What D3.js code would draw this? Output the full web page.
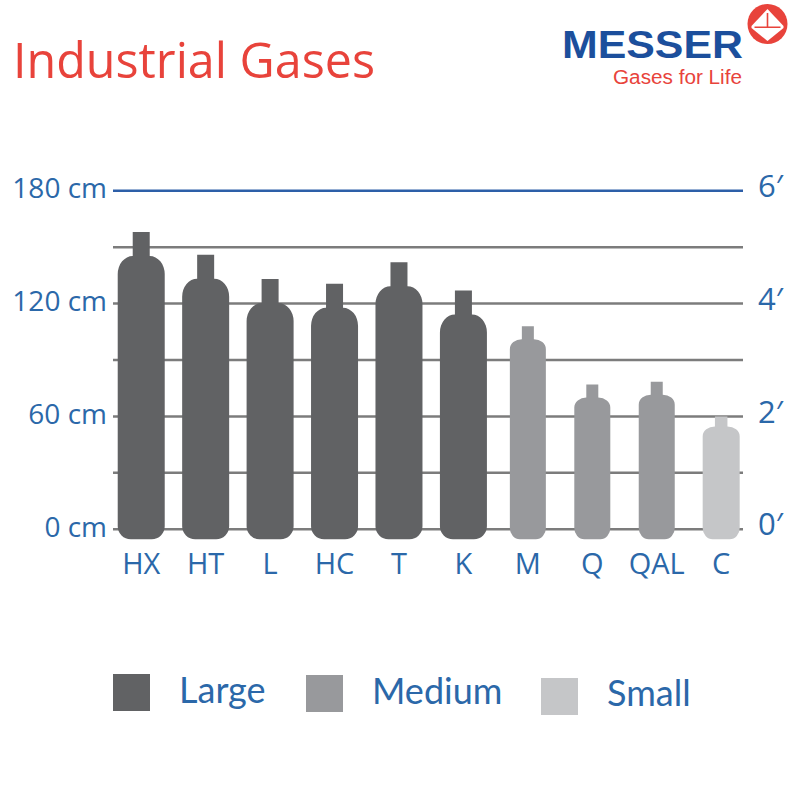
<!DOCTYPE html>
<html>
<head>
<meta charset="utf-8">
<script src="https://cdn.jsdelivr.net/npm/d3@7"></script>
<style>
  html, body { margin: 0; padding: 0; background: #ffffff; }
  svg { display: block; }
</style>
</head>
<body>
<svg id="chart" width="800" height="800"></svg>
<script>
// ---------------- DATA ----------------
const categories = ["HX", "HT", "L", "HC", "T", "K", "M", "Q", "QAL", "C"];
const heightsCm  = [158, 146, 133, 130.5, 142, 127, 108, 77, 78.5, 60];
const sizeClass  = ["Large", "Large", "Large", "Large", "Large", "Large", "Medium", "Medium", "Medium", "Small"];
const legendLabels = ["Large", "Medium", "Small"];
const cmTicks   = [0, 60, 120, 180];
const gridTicks = [0, 30, 60, 90, 120, 150, 180];
const feetTicks = [0, 2, 4, 6];
const titleText = "Industrial Gases";
const brandText = "MESSER";
const sloganText = "Gases for Life";

// ---------------- STYLE ----------------
const BLUE = "#2b68a9";
const RED = "#e8433b";
const classStyle = {
  Large:  { color: "#616264", w: 47, nw: 17, nh: 24, dh: 18, rx: 13, ry: 13 },
  Medium: { color: "#98999c", w: 36, nw: 12, nh: 13, dh: 10, rx: 10, ry: 11 },
  Small:  { color: "#c5c6c8", w: 37, nw: 12.5, nh: 10, dh: 10, rx: 10, ry: 11 }
};
const legendPos = [
  { sx: 113, sy: 674, tx: 179, ty: 703 },
  { sx: 306, sy: 675, tx: 372, ty: 704 },
  { sx: 541, sy: 678, tx: 607, ty: 706 }
];

const svg = d3.select("#chart");

// ---------------- SCALES ----------------
const gridLeft = 113, gridRight = 743;
const y = d3.scaleLinear().domain([0, 180]).range([529.3, 190.7]);
const yFeet = d3.scaleLinear().domain([0, 6]).range([529.3, 190.7]);
const x = d3.scaleBand().domain(categories).range([109, 753.4]).padding(0);

// ---------------- TITLE & LOGO ----------------
svg.append("text")
  .attr("x", 13).attr("y", 78)
  .attr("font-family", "'Open Sans', sans-serif")
  .attr("font-size", 49)
  .attr("fill", RED)
  .attr("textLength", 362)
  .attr("lengthAdjust", "spacingAndGlyphs")
  .text(titleText);

svg.append("text")
  .attr("x", 562).attr("y", 57.5)
  .attr("font-family", "'Liberation Sans', Arial, sans-serif")
  .attr("font-weight", "bold")
  .attr("font-size", 38)
  .attr("fill", "#1c4f9c")
  .attr("textLength", 181)
  .attr("lengthAdjust", "spacingAndGlyphs")
  .text(brandText);

svg.append("text")
  .attr("x", 613).attr("y", 84)
  .attr("font-family", "'Liberation Sans', Arial, sans-serif")
  .attr("font-size", 20)
  .attr("fill", RED)
  .attr("textLength", 129)
  .attr("lengthAdjust", "spacingAndGlyphs")
  .text(sloganText);

const emb = svg.append("g").attr("transform", "translate(767.5,24)");
emb.append("circle").attr("r", 20).attr("fill", RED);
emb.append("path")
  .attr("d", "M0,-15 L-16,2 L-16,4 L0,17 L16,4 L16,2 Z")
  .attr("fill", "#ffffff");
emb.append("path")
  .attr("d", "M0,-11 L0,3 M-13,3.2 L13,3.2")
  .attr("stroke", RED).attr("stroke-width", 1.6).attr("fill", "none");

// ---------------- GRID ----------------
const grid = svg.append("g");
grid.selectAll("line")
  .data(gridTicks)
  .join("line")
  .attr("x1", gridLeft).attr("x2", gridRight)
  .attr("y1", d => y(d)).attr("y2", d => y(d))
  .attr("stroke", d => d === 180 ? "#2d5fa8" : "#7c7c7c")
  .attr("stroke-width", 2.5);

// ---------------- CYLINDERS ----------------
function cylinderPath(cat, v, cls) {
  const s = classStyle[cls];
  const cx = x(cat) + x.bandwidth() / 2;
  const top = y(v);
  const shoulder = top + s.nh;
  const bodyTop = shoulder + s.dh;
  const bottom = y(0) + 10;
  const hw = s.w / 2, hn = s.nw / 2;
  const srx = hw - hn;
  return [
    `M${cx - hn},${top}`,
    `H${cx + hn}`,
    `V${shoulder}`,
    `A${srx},${s.dh} 0 0 1 ${cx + hw},${bodyTop}`,
    `V${bottom - s.ry}`,
    `A${s.rx},${s.ry} 0 0 1 ${cx + hw - s.rx},${bottom}`,
    `H${cx - hw + s.rx}`,
    `A${s.rx},${s.ry} 0 0 1 ${cx - hw},${bottom - s.ry}`,
    `V${bodyTop}`,
    `A${srx},${s.dh} 0 0 1 ${cx - hn},${shoulder}`,
    "Z"
  ].join(" ");
}

const rows = categories.map((c, i) => ({ cat: c, v: heightsCm[i], cls: sizeClass[i] }));
svg.append("g").selectAll("path")
  .data(rows)
  .join("path")
  .attr("d", d => cylinderPath(d.cat, d.v, d.cls))
  .attr("fill", d => classStyle[d.cls].color);

// ---------------- AXES ----------------
const leftAxis = svg.append("g")
  .attr("transform", `translate(${gridLeft},0)`)
  .call(d3.axisLeft(y).tickValues(cmTicks).tickSize(0).tickPadding(6).tickFormat(d => d + " cm"));
leftAxis.select(".domain").remove();
leftAxis.selectAll("text")
  .attr("dy", "0.25em")
  .attr("fill", BLUE)
  .attr("font-family", "'Open Sans', sans-serif")
  .attr("font-size", 28);

const rightAxis = svg.append("g")
  .attr("transform", `translate(${gridRight},0)`)
  .call(d3.axisRight(yFeet).tickValues(feetTicks).tickSize(0).tickPadding(15).tickFormat(d => d + "\u2032"));
rightAxis.select(".domain").remove();
rightAxis.selectAll("text")
  .attr("dy", "0.18em")
  .attr("fill", BLUE)
  .attr("font-family", "'Open Sans', sans-serif")
  .attr("font-size", 31);

const bottomAxis = svg.append("g")
  .attr("transform", `translate(0,${y(0)})`)
  .call(d3.axisBottom(x).tickSize(0).tickPadding(24));
bottomAxis.select(".domain").remove();
bottomAxis.selectAll("text")
  .attr("fill", BLUE)
  .attr("font-family", "'Open Sans', sans-serif")
  .attr("font-size", 29);

// ---------------- LEGEND ----------------
const legend = svg.append("g");
legendLabels.forEach((lab, i) => {
  const p = legendPos[i];
  legend.append("rect")
    .attr("x", p.sx).attr("y", p.sy)
    .attr("width", 37).attr("height", 37)
    .attr("fill", classStyle[lab].color);
  legend.append("text")
    .attr("x", p.tx).attr("y", p.ty)
    .attr("font-family", "Lato, sans-serif")
    .attr("font-size", 36)
    .attr("fill", BLUE)
    .text(lab);
});
</script>
</body>
</html>
